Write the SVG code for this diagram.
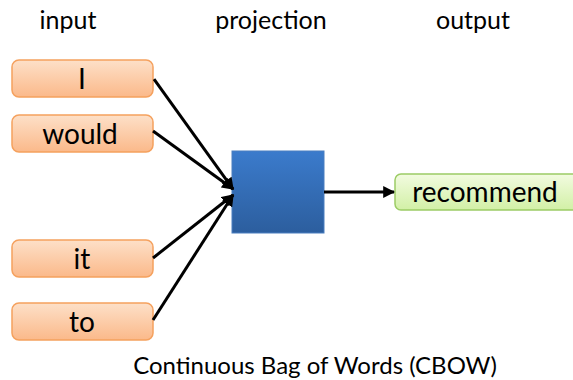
<svg xmlns="http://www.w3.org/2000/svg" width="573" height="380" viewBox="0 0 573 380">
<defs>
<linearGradient id="og" x1="0" y1="0" x2="0" y2="1"><stop offset="0" stop-color="#fde0c8"/><stop offset="1" stop-color="#fbb98a"/></linearGradient>
<linearGradient id="gg" x1="0" y1="0" x2="0" y2="1"><stop offset="0" stop-color="#f2fbe0"/><stop offset="1" stop-color="#d2f0a6"/></linearGradient>
<linearGradient id="bg" x1="0" y1="0" x2="0" y2="1"><stop offset="0" stop-color="#3b7bcc"/><stop offset="1" stop-color="#2c5e9e"/></linearGradient>
<marker id="ah" viewBox="0 0 10 10" refX="9" refY="5" markerWidth="4" markerHeight="4" markerUnits="strokeWidth" orient="auto"><path d="M0,0 L10,5 L0,10 z" fill="#000"/></marker>
<style>
.t{font-family:"Lato","Open Sans","Liberation Sans",sans-serif;fill:#000}
.h{font-size:25px;text-anchor:middle}
.cap{font-size:24px;text-anchor:middle}
.w{font-size:28px;text-anchor:middle}
.in{fill:url(#og);stroke:#f5a15e;stroke-width:1.5}
.c{stroke:#000;stroke-width:3;fill:none;marker-end:url(#ah)}
</style>
</defs>
<text class="t h" x="68" y="29">input</text>
<text class="t h" x="271" y="29">projection</text>
<text class="t h" x="473" y="29">output</text>
<g id="n-I"><rect class="in" x="12" y="60" width="141" height="37" rx="7"/><text class="t w" x="82" y="89">I</text></g>
<g id="n-would"><rect class="in" x="12" y="115" width="141" height="37" rx="7"/><text class="t w" x="80" y="144">would</text></g>
<g id="n-it"><rect class="in" x="12" y="240" width="141" height="37" rx="7"/><text class="t w" x="82" y="269">it</text></g>
<g id="n-to"><rect class="in" x="12" y="303" width="141" height="37" rx="7"/><text class="t w" x="82" y="332">to</text></g>
<g id="n-proj"><rect x="232" y="151" width="92" height="82" fill="url(#bg)" stroke="#4a7fc0" stroke-width="1"/></g>
<g id="n-recommend"><rect x="395" y="174" width="190" height="36" rx="6" fill="url(#gg)" stroke="#9ccc65" stroke-width="1.5"/><text class="t w" x="485" y="202">recommend</text></g>
<g id="edges">
<line class="c" x1="154" y1="79" x2="233" y2="189"/>
<line class="c" x1="153" y1="131" x2="233" y2="189"/>
<line class="c" x1="153" y1="258" x2="233" y2="195"/>
<line class="c" x1="153" y1="320" x2="233" y2="195"/>
<line class="c" x1="324" y1="192" x2="394" y2="192"/>
</g>
<text class="t cap" x="315" y="374">Continuous Bag of Words (CBOW)</text>
</svg>
